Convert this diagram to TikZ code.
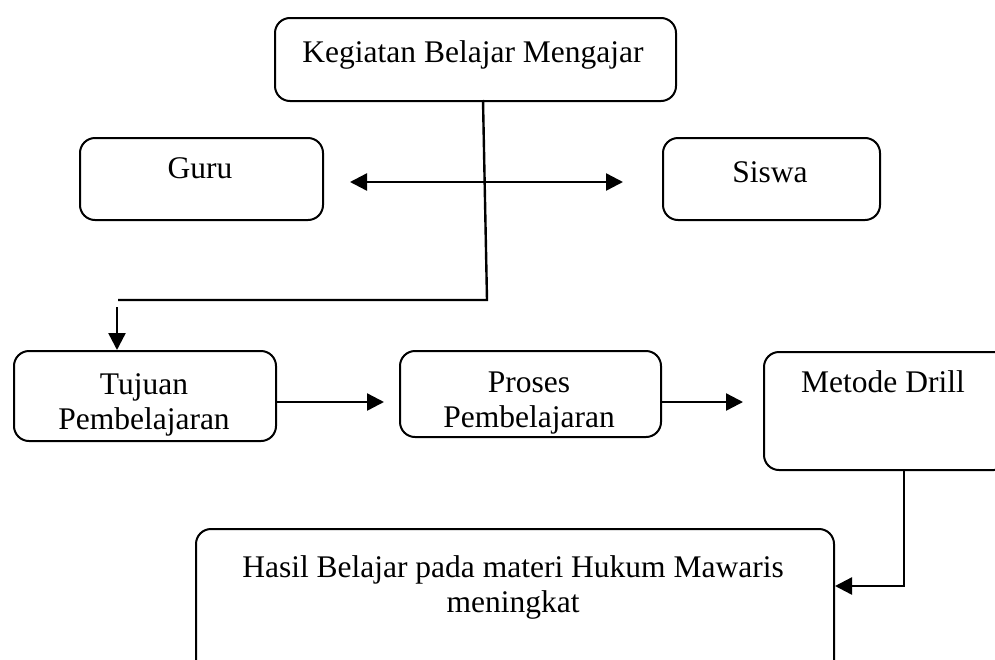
\documentclass[tikz,border=0pt]{standalone}
\usepackage{fontspec}
\setmainfont{Liberation Serif}
\usetikzlibrary{arrows.meta}
\begin{document}
\begin{tikzpicture}[x=1pt,y=-1pt,
  box/.style={draw, line width=2pt, rounded corners=15pt, anchor=north west, inner sep=0pt},
  lbl/.style={font=\fontsize{31.5}{34.5}\selectfont, align=center, anchor=base, inner sep=0pt},
  conn/.style={line width=2.4pt},
  arr/.style={line width=2.4pt, -{Triangle[length=17pt,width=17pt]}},
  dbl/.style={line width=2.4pt, {Triangle[length=17pt,width=17pt]}-{Triangle[length=17pt,width=17pt]}}]
\useasboundingbox (0,0) rectangle (995,659);
% boxes
\node[box, minimum width=401pt, minimum height=83pt] (kbm) at (274,17) {};
\node[box, minimum width=243pt, minimum height=82pt] (guru) at (79,137) {};
\node[box, minimum width=217pt, minimum height=82pt] (siswa) at (662,137) {};
\node[box, minimum width=262pt, minimum height=90pt] (tuj) at (13,350) {};
\node[box, minimum width=261pt, minimum height=86pt] (pros) at (399,350) {};
\node[box, minimum width=245pt, minimum height=118pt] (met) at (763,351) {};
\node[box, minimum width=638pt, minimum height=150pt] (has) at (195,528) {};
% texts
\node[lbl] (t1) at (473,62) {Kegiatan Belajar Mengajar};
\node[lbl] (t2) at (200,178) {Guru};
\node[lbl] (t3) at (770,182) {Siswa};
\node[lbl] (t4) at (144,429) {Tujuan\\Pembelajaran};
\node[lbl] (t5) at (529,427) {Proses\\Pembelajaran};
\node[lbl] (t6) at (883,392) {Metode Drill};
\node[lbl] (t7) at (513,612) {Hasil Belajar pada materi Hukum Mawaris\\meningkat};
% connectors
\coordinate (c0) at (483,100);
\coordinate (c1) at (487,300);
\coordinate (c2) at (118,300);
\coordinate (c3) at (117,307);
\draw[conn] (c0) -- (c1) -- (c2);
\draw[arr] (c3) -- (tuj.north -| c3);
\coordinate (d0) at (350,182);
\coordinate (d1) at (623,182);
\draw[dbl] (d0) -- (d1);
\coordinate (r1) at (384,402);
\draw[arr] (tuj.east |- r1) -- (r1);
\coordinate (r2) at (743,402);
\draw[arr] (pros.east |- r2) -- (r2);
\coordinate (m0) at (904,586);
\draw[arr] (met.south -| m0) -- (m0) -- (has.east |- m0);
\end{tikzpicture}
\end{document}
